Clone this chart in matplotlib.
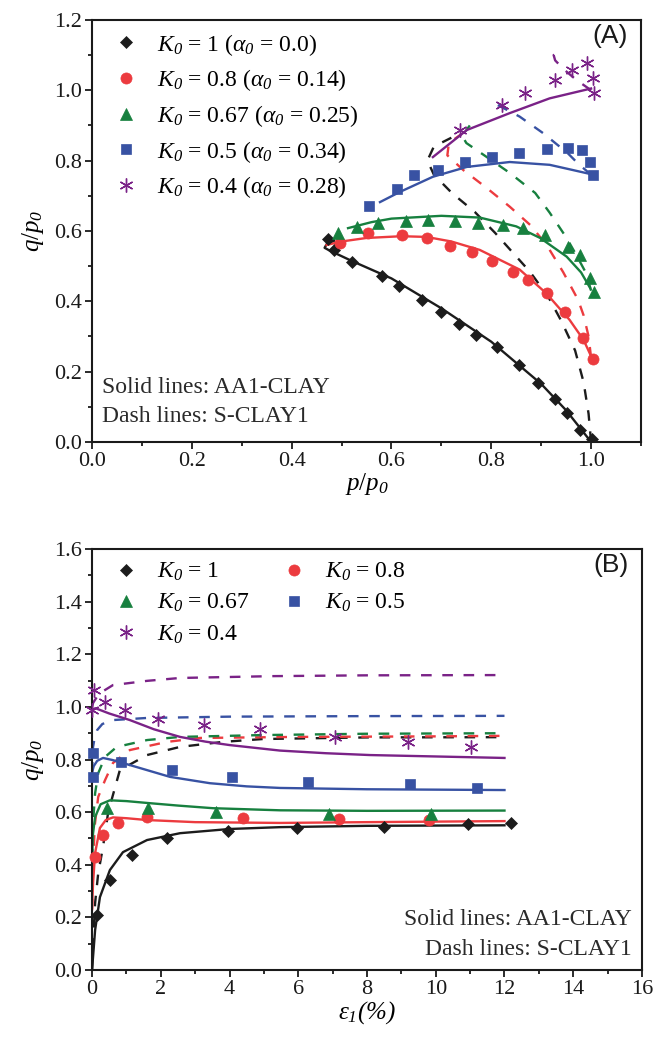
import numpy as np
import matplotlib
matplotlib.use('Agg')
import matplotlib.pyplot as plt
from matplotlib.ticker import MultipleLocator

plt.rcParams['font.family'] = ['Liberation Serif', 'DejaVu Serif']
plt.rcParams['mathtext.fontset'] = 'custom'
plt.rcParams['mathtext.rm'] = 'Liberation Serif'
plt.rcParams['mathtext.it'] = 'Liberation Serif:italic'
plt.rcParams['mathtext.sf'] = 'Liberation Serif:italic'
plt.rcParams['mathtext.bf'] = 'Liberation Serif:bold'

# colours
c_k1 = '#1c1c1c'
c_k08 = '#ec3b3f'
c_k067 = '#17803f'
c_k05 = '#3852a3'
c_k04 = '#7a2287'

# ---------------- panel A : stress paths (p/p0, q/p0) ----------------
# test data
pA_k1 = [0.473, 0.485, 0.521, 0.581, 0.615, 0.661, 0.700, 0.735, 0.770, 0.811, 0.856, 0.894, 0.928, 0.952, 0.978, 1.002]
qA_k1 = [0.577, 0.546, 0.512, 0.472, 0.443, 0.405, 0.370, 0.335, 0.305, 0.270, 0.219, 0.168, 0.122, 0.082, 0.034, 0.008]
pA_k08 = [0.497, 0.553, 0.621, 0.671, 0.717, 0.761, 0.801, 0.844, 0.874, 0.911, 0.948, 0.984, 1.004]
qA_k08 = [0.566, 0.594, 0.589, 0.580, 0.556, 0.540, 0.515, 0.483, 0.460, 0.423, 0.370, 0.296, 0.236]
pA_k067 = [0.493, 0.531, 0.573, 0.629, 0.673, 0.727, 0.773, 0.824, 0.864, 0.908, 0.954, 0.978, 0.998, 1.006]
qA_k067 = [0.594, 0.611, 0.623, 0.628, 0.631, 0.628, 0.623, 0.617, 0.608, 0.588, 0.555, 0.531, 0.466, 0.427]
pA_k05 = [0.555, 0.611, 0.645, 0.693, 0.747, 0.801, 0.856, 0.911, 0.954, 0.982, 0.998, 1.004]
qA_k05 = [0.671, 0.719, 0.759, 0.773, 0.795, 0.810, 0.821, 0.833, 0.836, 0.830, 0.796, 0.759]
pA_k04 = [0.737, 0.821, 0.867, 0.927, 0.962, 0.992, 1.004, 1.006]
qA_k04 = [0.887, 0.958, 0.992, 1.029, 1.058, 1.078, 1.035, 0.992]

# AA1-CLAY (solid)
pS_k1 = [0.485, 0.470, 0.466, 0.475, 0.520, 0.600, 0.700, 0.800, 0.900, 0.950, 1.000]
qS_k1 = [0.572, 0.562, 0.552, 0.545, 0.515, 0.465, 0.380, 0.285, 0.165, 0.090, 0.000]
pS_k08 = [0.470, 0.500, 0.550, 0.620, 0.670, 0.720, 0.777, 0.857, 0.910, 0.957, 0.985, 0.998]
qS_k08 = [0.560, 0.570, 0.580, 0.585, 0.583, 0.570, 0.546, 0.490, 0.423, 0.347, 0.290, 0.250]
pS_k067 = [0.513, 0.560, 0.600, 0.700, 0.777, 0.850, 0.898, 0.951, 0.980, 0.998]
qS_k067 = [0.608, 0.625, 0.635, 0.643, 0.638, 0.613, 0.580, 0.527, 0.482, 0.438]
pS_k05 = [0.577, 0.617, 0.683, 0.751, 0.837, 0.917, 0.964, 0.998]
qS_k05 = [0.682, 0.711, 0.754, 0.782, 0.796, 0.788, 0.773, 0.762]
pS_k04 = [0.683, 0.751, 0.837, 0.917, 1.000]
qS_k04 = [0.810, 0.887, 0.935, 0.977, 1.005]

# S-CLAY1 (dash)
pD_k1 = [1.000, 0.995, 0.985, 0.968, 0.940, 0.914, 0.878, 0.844, 0.808, 0.767, 0.721, 0.685, 0.672, 0.685, 0.720]
qD_k1 = [0.000, 0.080, 0.170, 0.260, 0.345, 0.413, 0.483, 0.537, 0.594, 0.654, 0.708, 0.760, 0.800, 0.840, 0.865]
pD_k08 = [1.000, 0.995, 0.985, 0.974, 0.944, 0.911, 0.878, 0.837, 0.791, 0.744, 0.712, 0.715, 0.740]
qD_k08 = [0.240, 0.300, 0.360, 0.404, 0.483, 0.560, 0.617, 0.669, 0.722, 0.773, 0.815, 0.850, 0.875]
pD_k067 = [1.000, 0.990, 0.971, 0.951, 0.917, 0.888, 0.837, 0.785, 0.750, 0.742, 0.757]
qD_k067 = [0.430, 0.480, 0.530, 0.580, 0.652, 0.708, 0.765, 0.816, 0.850, 0.870, 0.900]
pD_k05 = [1.000, 0.975, 0.954, 0.904, 0.857, 0.817, 0.810]
qD_k05 = [0.760, 0.790, 0.820, 0.878, 0.925, 0.955, 0.960]
pD_k04 = [1.000, 0.970, 0.945, 0.928, 0.925, 0.940]
qD_k04 = [1.000, 1.030, 1.060, 1.085, 1.100, 1.115]

# ---------------- panel B : q/p0 vs axial strain ----------------
eB_k1 = [0.15, 0.52, 1.16, 2.18, 3.96, 5.96, 8.49, 10.94, 12.19]
qB_k1 = [0.209, 0.342, 0.437, 0.502, 0.528, 0.540, 0.544, 0.555, 0.559]
eB_k08 = [0.08, 0.33, 0.76, 1.60, 4.40, 7.19, 9.80]
qB_k08 = [0.430, 0.515, 0.559, 0.583, 0.578, 0.574, 0.570]
eB_k067 = [0.45, 1.63, 3.61, 6.90, 9.86]
qB_k067 = [0.615, 0.615, 0.601, 0.593, 0.593]
eB_k05 = [0.03, 0.03, 0.85, 2.33, 4.07, 6.28, 9.25, 11.20]
qB_k05 = [0.734, 0.825, 0.791, 0.760, 0.734, 0.714, 0.707, 0.692]
eB_k04 = [0.00, 0.06, 0.38, 0.96, 1.92, 3.26, 4.89, 7.07, 9.19, 11.03]
qB_k04 = [0.988, 1.064, 1.019, 0.988, 0.954, 0.931, 0.916, 0.886, 0.867, 0.848]

eS_k1 = [0.0, 0.09, 0.23, 0.52, 0.90, 1.6, 2.56, 4.0, 5.47, 8.0, 12.0]
qS_b1 = [0.0, 0.152, 0.277, 0.380, 0.448, 0.494, 0.520, 0.536, 0.543, 0.548, 0.550]
eS_k08 = [0.0, 0.03, 0.09, 0.23, 0.40, 0.61, 1.0, 1.6, 3.0, 5.47, 8.0, 12.0]
qS_b08 = [0.230, 0.330, 0.445, 0.540, 0.570, 0.580, 0.577, 0.570, 0.562, 0.559, 0.562, 0.566]
eS_k067 = [0.0, 0.03, 0.09, 0.25, 0.52, 1.0, 1.6, 2.5, 3.52, 5.47, 8.0, 12.0]
qS_b067 = [0.420, 0.520, 0.582, 0.630, 0.645, 0.642, 0.635, 0.625, 0.615, 0.607, 0.605, 0.606]
eS_k05 = [0.0, 0.05, 0.15, 0.32, 0.6, 1.1, 2.27, 3.43, 4.5, 5.47, 8.0, 12.0]
qS_b05 = [0.750, 0.775, 0.795, 0.806, 0.798, 0.779, 0.734, 0.710, 0.698, 0.692, 0.687, 0.684]
eS_k04 = [0.0, 0.1, 0.5, 1.1, 1.8, 2.56, 3.3, 4.0, 5.47, 6.8, 8.09, 12.0]
qS_b04 = [0.990, 0.995, 0.975, 0.950, 0.915, 0.886, 0.868, 0.855, 0.834, 0.824, 0.817, 0.806]

eD_k1 = [0.0, 0.04, 0.09, 0.18, 0.32, 0.47, 0.81, 1.6, 2.56, 3.8, 4.98, 8.0, 12.0]
qD_b1 = [0.0, 0.130, 0.255, 0.368, 0.468, 0.600, 0.760, 0.817, 0.848, 0.867, 0.878, 0.884, 0.885]
eD_k08 = [0.0, 0.03, 0.08, 0.18, 0.38, 0.61, 1.1, 2.18, 3.14, 6.0, 10.0, 12.0]
qD_b08 = [0.230, 0.400, 0.550, 0.658, 0.722, 0.787, 0.836, 0.867, 0.882, 0.886, 0.888, 0.890]
eD_k067 = [0.0, 0.03, 0.09, 0.18, 0.38, 0.72, 1.6, 2.56, 4.98, 8.0, 12.0]
qD_b067 = [0.420, 0.560, 0.672, 0.748, 0.810, 0.848, 0.874, 0.886, 0.893, 0.898, 0.900]
eD_k05 = [0.0, 0.03, 0.08, 0.15, 0.30, 0.61, 1.6, 4.0, 8.0, 12.0]
qD_b05 = [0.750, 0.848, 0.885, 0.912, 0.935, 0.950, 0.958, 0.963, 0.965, 0.966]
eD_k04 = [0.0, 0.03, 0.2, 0.61, 1.6, 2.56, 5.27, 8.0, 12.0]
qD_b04 = [1.000, 1.015, 1.050, 1.083, 1.099, 1.110, 1.117, 1.120, 1.121]

K = r'$K_{\mathsf{0}}$'
A = r'$\alpha_{\mathsf{0}}$'
labels_A = [K + ' = 1 (' + A + ' = 0.0)',
            K + ' = 0.8 (' + A + ' = 0.14)',
            K + ' = 0.67 (' + A + ' = 0.25)',
            K + ' = 0.5 (' + A + ' = 0.34)',
            K + ' = 0.4 (' + A + ' = 0.28)']
labels_B = [K + ' = 1', K + ' = 0.8', K + ' = 0.67', K + ' = 0.5', K + ' = 0.4']

colors = [c_k1, c_k08, c_k067, c_k05, c_k04]
markers = ['D', 'o', '^', 's', (6, 2, 0)]
msizes = [6.5, 8, 8, 7, 10]

lw = 1.7
dash = (0, (4.5, 4.5))
fs_tick = 16
fs_leg = 17
fs_note = 17
fs_lab = 18


def style_axes(ax):
    for s in ax.spines.values():
        s.set_linewidth(1.5)
        s.set_color('#1a1a1a')
    ax.tick_params(which='both', direction='out', top=False, right=False,
                   width=1.3, labelsize=fs_tick, colors='#1a1a1a', pad=2)
    ax.tick_params(which='major', length=5)
    ax.tick_params(which='minor', length=3)


fig = plt.figure(figsize=(6.55, 10.49), dpi=100)

# ---- panel A ----
ax1 = fig.add_axes([0.1405, 0.5787, 0.8381, 0.4023])
solidA = [(pS_k1, qS_k1), (pS_k08, qS_k08), (pS_k067, qS_k067), (pS_k05, qS_k05), (pS_k04, qS_k04)]
dashA = [(pD_k1, qD_k1), (pD_k08, qD_k08), (pD_k067, qD_k067), (pD_k05, qD_k05), (pD_k04, qD_k04)]
dataA = [(pA_k1, qA_k1), (pA_k08, qA_k08), (pA_k067, qA_k067), (pA_k05, qA_k05), (pA_k04, qA_k04)]
handlesA = []
for i in range(5):
    ax1.plot(solidA[i][0], solidA[i][1], color=colors[i], lw=lw, zorder=2)
    ax1.plot(dashA[i][0], dashA[i][1], color=colors[i], lw=lw, ls=dash, zorder=2)
    h, = ax1.plot(dataA[i][0], dataA[i][1], ls='none', marker=markers[i], ms=msizes[i],
                  color=colors[i], mec=colors[i], mew=1.0 if i == 4 else 0.5,
                  label=labels_A[i], zorder=3)
    handlesA.append(h)

ax1.set_xlim(0, 1.1)
ax1.set_ylim(0, 1.2)
ax1.xaxis.set_minor_locator(MultipleLocator(0.1))
ax1.yaxis.set_minor_locator(MultipleLocator(0.1))
ax1.set_xticks([0, 0.2, 0.4, 0.6, 0.8, 1.0])
ax1.set_xticklabels(['0.0', '0.2', '0.4', '0.6', '0.8', '1.0'])
ax1.set_yticks(np.arange(0, 1.21, 0.2))
ax1.set_yticklabels(['%.1f' % v for v in np.arange(0, 1.21, 0.2)])
style_axes(ax1)
ax1.set_xlabel(r'$p/p_{\mathsf{0}}$', fontsize=fs_lab, labelpad=0)
ax1.set_ylabel(r'$q/p_{\mathsf{0}}$', fontsize=fs_lab, labelpad=6)
ax1.legend(handles=handlesA, loc='upper left', bbox_to_anchor=(0.015, 1.0), frameon=False,
           fontsize=fs_leg, handlelength=1.2, handletextpad=0.7, labelspacing=0.41,
           borderaxespad=0.2, borderpad=0.3)
ax1.text(0.975, 0.962, '(A)', transform=ax1.transAxes, ha='right', va='center',
         fontsize=19, family='Liberation Sans', color='#1a1a1a')
ax1.text(0.018, 0.13, 'Solid lines: AA1-CLAY', transform=ax1.transAxes, ha='left',
         va='center', fontsize=fs_note, color='#2a2a2a')
ax1.text(0.018, 0.06, 'Dash lines: S-CLAY1', transform=ax1.transAxes, ha='left',
         va='center', fontsize=fs_note, color='#2a2a2a')

# ---- panel B ----
ax2 = fig.add_axes([0.1405, 0.0753, 0.8396, 0.4013])
solidB = [(eS_k1, qS_b1), (eS_k08, qS_b08), (eS_k067, qS_b067), (eS_k05, qS_b05), (eS_k04, qS_b04)]
dashB = [(eD_k1, qD_b1), (eD_k08, qD_b08), (eD_k067, qD_b067), (eD_k05, qD_b05), (eD_k04, qD_b04)]
dataB = [(eB_k1, qB_k1), (eB_k08, qB_k08), (eB_k067, qB_k067), (eB_k05, qB_k05), (eB_k04, qB_k04)]
handlesB = []
for i in range(5):
    ax2.plot(solidB[i][0], solidB[i][1], color=colors[i], lw=lw, zorder=2)
    ax2.plot(dashB[i][0], dashB[i][1], color=colors[i], lw=lw, ls=dash, zorder=2)
    h, = ax2.plot(dataB[i][0], dataB[i][1], ls='none', marker=markers[i], ms=msizes[i],
                  color=colors[i], mec=colors[i], mew=1.0 if i == 4 else 0.5,
                  label=labels_B[i], zorder=3, clip_on=False)
    handlesB.append(h)

ax2.set_xlim(0, 16)
ax2.set_ylim(0, 1.6)
ax2.xaxis.set_major_locator(MultipleLocator(2))
ax2.xaxis.set_minor_locator(MultipleLocator(1))
ax2.yaxis.set_minor_locator(MultipleLocator(0.1))
ax2.set_yticks(np.arange(0, 1.61, 0.2))
ax2.set_yticklabels(['%.1f' % v for v in np.arange(0, 1.61, 0.2)])
style_axes(ax2)
ax2.set_xlabel(r'$\varepsilon_{\mathsf{1}}\mathsf{(\%)}$', fontsize=fs_lab, labelpad=0)
ax2.set_ylabel(r'$q/p_{\mathsf{0}}$', fontsize=fs_lab, labelpad=6)
order = [0, 2, 4, 1, 3]
ax2.legend(handles=[handlesB[k] for k in order], loc='upper left', bbox_to_anchor=(0.015, 1.0),
           ncol=2, frameon=False, fontsize=fs_leg, handlelength=1.2, handletextpad=0.7,
           labelspacing=0.38, columnspacing=1.3, borderaxespad=0.2, borderpad=0.3)
ax2.text(0.975, 0.962, '(B)', transform=ax2.transAxes, ha='right', va='center',
         fontsize=19, family='Liberation Sans', color='#1a1a1a')
ax2.text(0.982, 0.12, 'Solid lines: AA1-CLAY', transform=ax2.transAxes, ha='right',
         va='center', fontsize=fs_note, color='#2a2a2a')
ax2.text(0.982, 0.048, 'Dash lines: S-CLAY1', transform=ax2.transAxes, ha='right',
         va='center', fontsize=fs_note, color='#2a2a2a')

fig.savefig('out.png', dpi=100)
